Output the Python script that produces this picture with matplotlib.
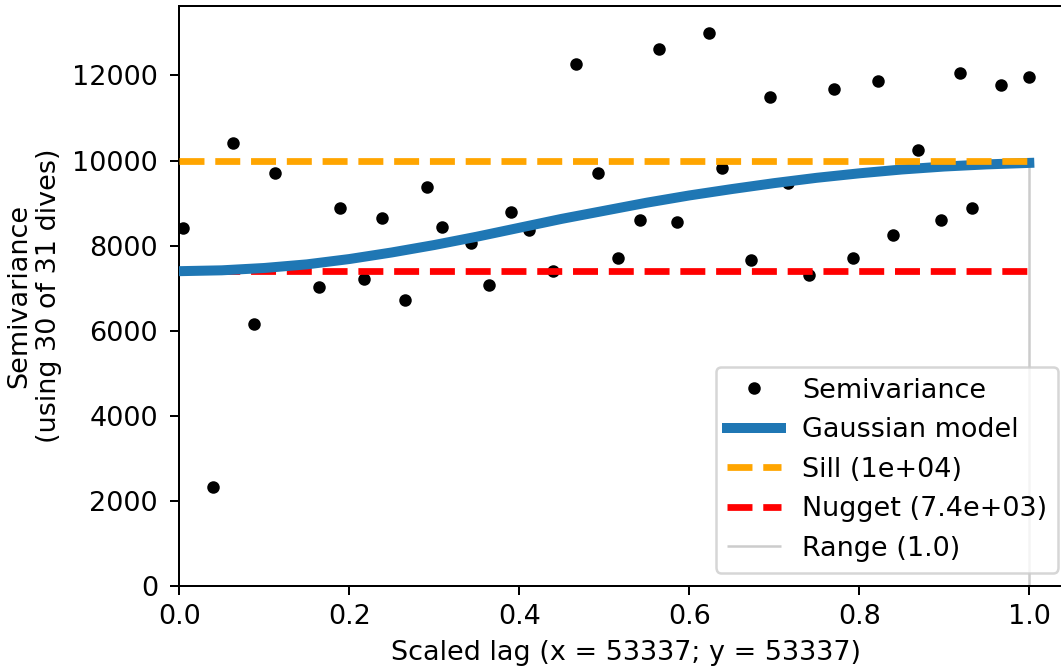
import numpy as np
import matplotlib
matplotlib.use('Agg')
import matplotlib.pyplot as plt

# empirical semivariance (scaled lag, semivariance)
lag = [0.004, 0.040, 0.063, 0.088, 0.113, 0.136, 0.164, 0.189, 0.217, 0.239,
       0.266, 0.291, 0.309, 0.343, 0.364, 0.390, 0.411, 0.440, 0.467, 0.492,
       0.516, 0.542, 0.564, 0.585, 0.623, 0.639, 0.673, 0.695, 0.716, 0.741,
       0.770, 0.793, 0.822, 0.840, 0.869, 0.896, 0.919, 0.933, 0.967, 1.000]
semivar = [8424, 2325, 10420, 6169, 9699, 7498, 7029, 8884, 7217, 8659,
           6716, 9377, 8431, 8062, 7076, 8799, 8377, 7397, 12275, 9699,
           7710, 8612, 12627, 8565, 12993, 9833, 7672, 11500, 9471, 7303,
           11678, 7710, 11866, 8243, 10239, 8612, 12054, 8884, 11772, 11953]

# fitted gaussian model
model_lag = [0.00, 0.05, 0.10, 0.15, 0.20, 0.25, 0.30, 0.35, 0.40, 0.45, 0.50,
             0.55, 0.60, 0.65, 0.70, 0.75, 0.80, 0.85, 0.90, 0.95, 1.00]
model_val = [7400, 7420, 7475, 7560, 7685, 7840, 8015, 8210, 8420, 8630, 8820,
             9010, 9180, 9330, 9470, 9595, 9700, 9790, 9860, 9910, 9945]

sill = 10000
nugget = 7400
vrange = 1.0

plt.rcParams['font.size'] = 10.8
plt.rcParams['ytick.major.pad'] = 5
plt.rcParams['xtick.major.pad'] = 3.8

fig = plt.figure(figsize=(1061 / 180, 672 / 180), dpi=180)
ax = fig.add_axes([179.3 / 1061, 86 / 672, 892.5 / 1061, 580.3 / 672])

rng = ax.vlines(vrange, 0, sill, color='0.8', lw=1.0, zorder=1, label='Range (%.1f)' % vrange)
pts, = ax.plot(lag, semivar, 'k.', ms=8, zorder=2, label='Semivariance')
nug = ax.hlines(nugget, 0, vrange, color='red', linestyles='--', lw=2.7, zorder=2,
                label='Nugget (%.1e)' % nugget)
mod, = ax.plot(model_lag, model_val, color='#1f77b4', lw=4, zorder=3, label='Gaussian model')
sil = ax.hlines(sill, 0, vrange, color='orange', linestyles='--', lw=2.7, zorder=4,
                label='Sill (%.0e)' % sill)

ax.set_xlim(0, 1.05)
ax.set_ylim(0, 13640)
ax.set_xticks([0.0, 0.2, 0.4, 0.6, 0.8, 1.0])
ax.set_xlabel('Scaled lag (x = 53337; y = 53337)')
ax.set_ylabel('Semivariance\n(using 30 of 31 dives)')

ax.legend(handles=[pts, mod, sil, nug, rng], loc='lower right')

fig.savefig('out.png', dpi=180)
